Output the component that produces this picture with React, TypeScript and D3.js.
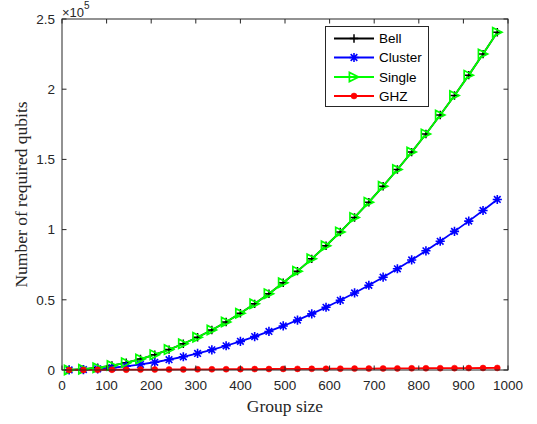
import React from "react";
import * as d3 from "d3";

const groupSizes = [16, 48, 80, 112, 144, 176, 208, 240, 272, 304, 336, 368, 400, 432, 464, 496, 528, 560, 592, 624, 656, 688, 720, 752, 784, 816, 848, 880, 912, 944, 976];
const bellQubits = [65, 582, 1616, 3167, 5236, 7821, 10924, 14544, 18681, 23335, 28506, 34195, 40400, 47123, 54362, 62119, 70393, 79184, 88492, 98317, 108660, 119519, 130896, 142790, 155201, 168129, 181574, 195536, 210015, 225012, 240525];
const clusterQubits = [33, 294, 816, 1599, 2644, 3949, 5516, 7344, 9433, 11783, 14394, 17267, 20400, 23795, 27450, 31367, 35545, 39984, 44684, 49645, 54868, 60351, 66096, 72102, 78369, 84897, 91686, 98736, 106047, 113620, 121453];
const singleQubits = [65, 582, 1616, 3167, 5236, 7821, 10924, 14544, 18681, 23335, 28506, 34195, 40400, 47123, 54362, 62119, 70393, 79184, 88492, 98317, 108660, 119519, 130896, 142790, 155201, 168129, 181574, 195536, 210015, 225012, 240525];
const ghzQubits = [30, 80, 130, 170, 220, 270, 320, 370, 410, 460, 510, 560, 600, 650, 700, 750, 800, 840, 890, 940, 990, 1030, 1080, 1130, 1180, 1230, 1270, 1320, 1370, 1420, 1460];

const seriesNames = ["Bell", "Cluster", "Single", "GHZ"];
const seriesColors = ["#000000", "#0000ff", "#00ff00", "#ff0000"];
const xTicks = [0, 100, 200, 300, 400, 500, 600, 700, 800, 900, 1000];
const yTicks = [0, 50000, 100000, 150000, 200000, 250000];
const yTickLabels = ["0", "0.5", "1", "1.5", "2", "2.5"];

const W = 537, H = 424;
const L = 62, R = 508, T = 19, B = 370;
const axisColor = "#262626";
const sans = "'Liberation Sans', Arial, sans-serif";
const serif = "'Liberation Serif', 'Times New Roman', serif";

function Marker({ kind, x, y, color }: { kind: string; x: number; y: number; color: string }) {
  if (kind === "Bell") {
    const s = 4.2;
    return (
      <path d={`M${x - s},${y}H${x + s}M${x},${y - s}V${y + s}`} stroke={color} strokeWidth={1.5} fill="none" />
    );
  }
  if (kind === "Cluster") {
    const s = 4.6;
    const d2 = s * 0.72;
    return (
      <path
        d={`M${x - s},${y}H${x + s}M${x},${y - s}V${y + s}M${x - d2},${y - d2}L${x + d2},${y + d2}M${x - d2},${y + d2}L${x + d2},${y - d2}`}
        stroke={color}
        strokeWidth={1.6}
        fill="none"
      />
    );
  }
  if (kind === "Single") {
    const s = 4.6;
    return (
      <path
        d={`M${x + s},${y}L${x - s},${y - s}L${x - s},${y + s}Z`}
        stroke={color}
        strokeWidth={1.7}
        fill="none"
        strokeLinejoin="miter"
      />
    );
  }
  return <circle cx={x} cy={y} r={3} fill={color} stroke={color} strokeWidth={0.5} />;
}

export default function App() {
  const x = d3.scaleLinear().domain([0, 1000]).range([L, R]);
  const y = d3.scaleLinear().domain([0, 250000]).range([B, T]);
  const allSeries = [bellQubits, clusterQubits, singleQubits, ghzQubits];
  const line = d3
    .line<number>()
    .x((_, i) => x(groupSizes[i]))
    .y((d) => y(d));

  const legendX = 325.5, legendY = 26.5, legendW = 103, legendH = 80;
  const legendRows = [38.5, 57.5, 77, 96];

  const order = [0, 1, 2, 3];

  return (
    <svg width={W} height={H} style={{ position: "absolute", left: 0, top: 0, background: "#fff" }}>
      <rect x={0} y={0} width={W} height={H} fill="#fff" />
      {order.map((si) => (
        <g key={si}>
          <path d={line(allSeries[si]) || ""} stroke={seriesColors[si]} strokeWidth={1.8} fill="none" />
        </g>
      ))}
      {order.map((si) => (
        <g key={"m" + si}>
          {allSeries[si].map((v, i) => (
            <Marker key={i} kind={seriesNames[si]} x={x(groupSizes[i])} y={y(v)} color={seriesColors[si]} />
          ))}
        </g>
      ))}
      <rect x={L} y={T} width={R - L} height={B - T} fill="none" stroke={axisColor} strokeWidth={1} />
      {xTicks.map((t) => (
        <g key={"xt" + t}>
          <line x1={x(t)} x2={x(t)} y1={B} y2={B - 4.5} stroke={axisColor} strokeWidth={1} />
          <line x1={x(t)} x2={x(t)} y1={T} y2={T + 4.5} stroke={axisColor} strokeWidth={1} />
          <text x={x(t)} y={390} textAnchor="middle" fontFamily={sans} fontSize={13.5} fill={axisColor}>
            {t}
          </text>
        </g>
      ))}
      {yTicks.map((t, i) => (
        <g key={"yt" + t}>
          <line x1={L} x2={L + 4.5} y1={y(t)} y2={y(t)} stroke={axisColor} strokeWidth={1} />
          <line x1={R} x2={R - 4.5} y1={y(t)} y2={y(t)} stroke={axisColor} strokeWidth={1} />
          <text x={55} y={y(t)} dy="0.35em" textAnchor="end" fontFamily={sans} fontSize={13.5} fill={axisColor}>
            {yTickLabels[i]}
          </text>
        </g>
      ))}
      <text x={62} y={16.5} fontFamily={sans} fontSize={13} fill={axisColor}>
        ×10
        <tspan fontSize={10} dy={-8}>5</tspan>
      </text>
      <text x={(L + R) / 2} y={412} textAnchor="middle" fontFamily={serif} fontSize={17.5} fill={axisColor}>
        Group size
      </text>
      <text
        transform={`translate(27,${(T + B) / 2}) rotate(-90)`}
        textAnchor="middle"
        fontFamily={serif}
        fontSize={17.5}
        fill={axisColor}
      >
        Number of required qubits
      </text>
      <rect x={legendX} y={legendY} width={legendW} height={legendH} fill="#fff" stroke={axisColor} strokeWidth={1} />
      {seriesNames.map((name, i) => (
        <g key={"lg" + name}>
          <line x1={334} x2={374} y1={legendRows[i]} y2={legendRows[i]} stroke={seriesColors[i]} strokeWidth={1.8} />
          <Marker kind={name} x={354} y={legendRows[i]} color={seriesColors[i]} />
          <text x={379} y={legendRows[i]} dy="0.36em" fontFamily={sans} fontSize={13.5} fill="#000">
            {name}
          </text>
        </g>
      ))}
    </svg>
  );
}
